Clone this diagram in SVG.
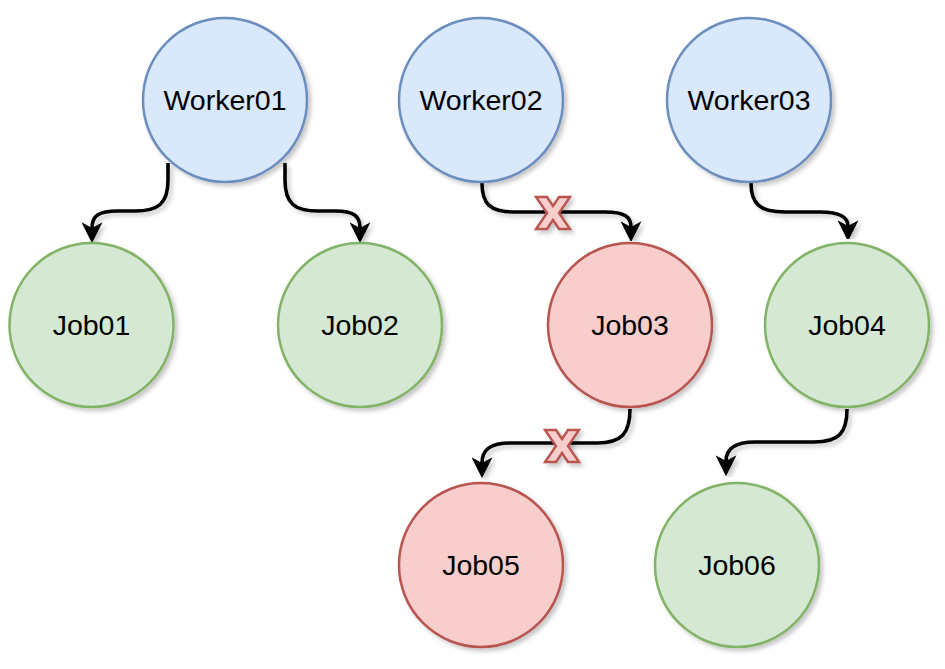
<svg xmlns="http://www.w3.org/2000/svg" width="945" height="669" viewBox="0 0 945 669">
<defs>
<filter id="sh" x="-20%" y="-20%" width="150%" height="150%">
<feGaussianBlur in="SourceAlpha" stdDeviation="2"/>
<feOffset dx="3" dy="3" result="o"/>
<feFlood flood-color="#000" flood-opacity="0.22"/>
<feComposite in2="o" operator="in"/>
<feMerge><feMergeNode/><feMergeNode in="SourceGraphic"/></feMerge>
</filter>
<marker id="arr" markerUnits="userSpaceOnUse" markerWidth="21" markerHeight="21" viewBox="0 0 18 18" refX="5" refY="9" orient="auto">
<path d="M0,0 L18,9 L0,18 L5,9 z" fill="#000"/>
</marker>
<style>
.n{stroke-width:2.5;filter:url(#sh)}
.b{fill:#dae8fc;stroke:#6c8ebf}
.g{fill:#d5e8d4;stroke:#82b366}
.r{fill:#f8cecc;stroke:#b85450}
.t{font-family:"Liberation Sans",Arial,sans-serif;font-size:28.5px;fill:#000;text-anchor:middle}
.e{fill:none;stroke:#000;stroke-width:3.6;marker-end:url(#arr);filter:url(#sh)}
.x{fill:#f8cecc;stroke:#b85450;stroke-width:2.4;stroke-linejoin:miter;filter:url(#sh)}
</style>
</defs>
<rect width="945" height="669" fill="#fff"/>
<g id="connectors">
<path class="e" d="M168,163 L168,180 C168,204 158,211 135,211 L118,211 C98,211 92,216 92,228"/>
<path class="e" d="M285,163 L285,180 C285,204 295,211 318,211 L335,211 C354,211 360,216 360,228"/>
<path class="e" d="M482,183 C482,204 490,212 515,212 L605,212 C625,212 631,217 631,227"/>
<path class="e" d="M751,183 C751,204 760,212 785,212 L820,212 C840,212 848,217 848,226"/>
<path class="e" d="M630,409 C630,433 622,443 597,443 L510,443 C490,443 482,450 482,463"/>
<path class="e" d="M847,409 C847,433 839,442 814,442 L755,442 C735,442 726,449 726,461"/>
<polygon id="x1" class="x" points="536,197 547,197 553,206 559,197 570,197 559,213 570,229 559,229 553,220 547,229 536,229 547,213"/>
<polygon id="x2" class="x" points="545,430 556,430 562,439 568,430 579,430 568,446 579,462 568,462 562,453 556,462 545,462 556,446"/>
</g>
<g id="worker01"><circle class="n b" cx="225" cy="100" r="82"/><text class="t" x="225" y="110">Worker01</text></g>
<g id="worker02"><circle class="n b" cx="481" cy="100" r="82"/><text class="t" x="481" y="110">Worker02</text></g>
<g id="worker03"><circle class="n b" cx="749" cy="100" r="82"/><text class="t" x="749" y="110">Worker03</text></g>
<g id="job01"><circle class="n g" cx="91.5" cy="325" r="82"/><text class="t" x="91.5" y="335">Job01</text></g>
<g id="job02"><circle class="n g" cx="360" cy="325" r="82"/><text class="t" x="360" y="335">Job02</text></g>
<g id="job03"><circle class="n r" cx="630" cy="325" r="82"/><text class="t" x="630" y="335">Job03</text></g>
<g id="job04"><circle class="n g" cx="847" cy="325" r="82"/><text class="t" x="847" y="335">Job04</text></g>
<g id="job05"><circle class="n r" cx="481" cy="565" r="82"/><text class="t" x="481" y="575">Job05</text></g>
<g id="job06"><circle class="n g" cx="737" cy="565" r="82"/><text class="t" x="737" y="575">Job06</text></g>
</svg>
